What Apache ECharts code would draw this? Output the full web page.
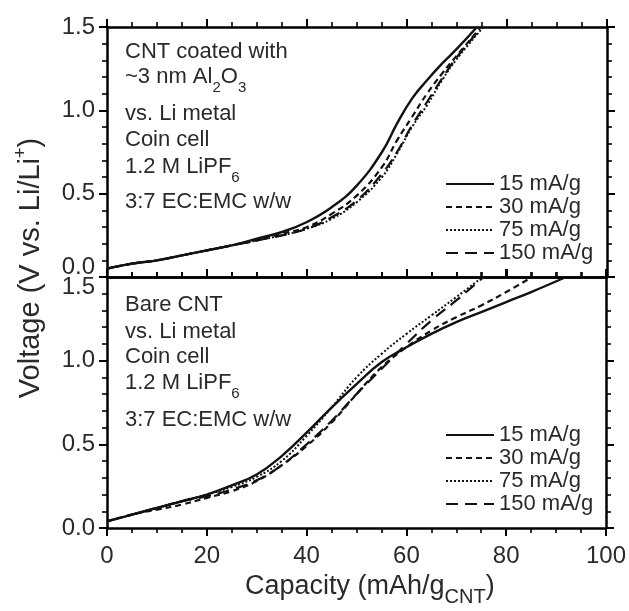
<!DOCTYPE html>
<html>
<head>
<meta charset="utf-8">
<script src="https://cdn.jsdelivr.net/npm/echarts@6/dist/echarts.min.js"></script>
<style>
html,body{margin:0;padding:0;background:#fff;}
#chart{width:629px;height:611px;}
</style>
</head>
<body>
<div id="chart"></div>
<script>
// ---------- data ----------
const seriesNames = ['15 mA/g', '30 mA/g', '75 mA/g', '150 mA/g'];
const xTickLabels = ['0', '20', '40', '60', '80', '100'];
const yTickLabels = ['0.0', '0.5', '1.0', '1.5'];

// top panel: CNT coated with ~3 nm Al2O3
const topCap15 = [0, 5, 10, 15, 20, 25, 30, 35, 40, 45, 50, 55, 58, 61, 64, 67, 70, 74];
const topV15   = [0.05, 0.08, 0.10, 0.13, 0.16, 0.19, 0.23, 0.27, 0.33, 0.42, 0.55, 0.75, 0.92, 1.07, 1.18, 1.28, 1.37, 1.50];
const topCap30 = [0, 5, 10, 15, 20, 25, 30, 35, 40, 45, 50, 55, 58, 61, 64, 67, 70, 74.8];
const topV30   = [0.05, 0.08, 0.10, 0.13, 0.16, 0.19, 0.22, 0.26, 0.30, 0.38, 0.49, 0.66, 0.82, 0.96, 1.10, 1.22, 1.33, 1.50];
const topCap75 = [0, 5, 10, 15, 20, 25, 30, 35, 40, 45, 50, 55, 58, 61, 64, 67, 70, 75.3];
const topV75   = [0.05, 0.08, 0.10, 0.13, 0.16, 0.19, 0.22, 0.25, 0.29, 0.35, 0.45, 0.60, 0.74, 0.90, 1.03, 1.18, 1.31, 1.50];
const topCap150 = [0, 5, 10, 15, 20, 25, 30, 35, 40, 45, 50, 55, 58, 61, 64, 67, 70, 75];
const topV150   = [0.05, 0.08, 0.10, 0.13, 0.16, 0.19, 0.22, 0.25, 0.29, 0.36, 0.46, 0.62, 0.75, 0.91, 1.05, 1.19, 1.32, 1.50];

// bottom panel: bare CNT
const botCap15 = [0, 5, 10, 15, 20, 25, 30, 35, 40, 45, 50, 55, 60, 65, 70, 75, 80, 85, 92];
const botV15   = [0.04, 0.08, 0.12, 0.16, 0.20, 0.255, 0.32, 0.43, 0.57, 0.72, 0.86, 0.99, 1.08, 1.16, 1.23, 1.29, 1.35, 1.41, 1.50];
const botCap30 = [0, 5, 10, 15, 20, 25, 30, 35, 40, 45, 50, 55, 60, 65, 70, 75, 80, 85.2];
const botV30   = [0.04, 0.08, 0.11, 0.14, 0.18, 0.22, 0.28, 0.375, 0.49, 0.63, 0.80, 0.96, 1.08, 1.18, 1.26, 1.33, 1.41, 1.50];
const botCap75 = [0, 5, 10, 15, 20, 25, 30, 35, 40, 45, 50, 55, 60, 65, 70, 75.3];
const botV75   = [0.04, 0.08, 0.12, 0.16, 0.20, 0.245, 0.305, 0.40, 0.55, 0.72, 0.90, 1.04, 1.16, 1.27, 1.38, 1.50];
const botCap150 = [0, 5, 10, 15, 20, 25, 30, 35, 40, 45, 50, 55, 60, 65, 70, 75.5];
const botV150   = [0.04, 0.08, 0.12, 0.16, 0.19, 0.23, 0.285, 0.375, 0.50, 0.64, 0.80, 0.95, 1.10, 1.24, 1.36, 1.50];

const topNotes = ['CNT coated with', '~3 nm Al{s|2}O{s|3}', 'vs. Li metal', 'Coin cell', '1.2 M LiPF{s|6}', '3:7 EC:EMC w/w'];
const botNotes = ['Bare CNT', 'vs. Li metal', 'Coin cell', '1.2 M LiPF{s|6}', '3:7 EC:EMC w/w'];

// ---------- styling ----------
const FF = "'Liberation Sans', Arial, Helvetica, sans-serif";
const TXT = '#2a2a2a';
const dashes = ['solid', [6, 4], [2, 2], [12, 7]];
const widths = [2.4, 2.2, 2.0, 2.2];

const chart = echarts.init(document.getElementById('chart'), null, {renderer: 'canvas'});

function xAx(gridIndex, position, showLabel, inside) {
  return {
    type: 'value', gridIndex, position, min: 0, max: 100, interval: 20,
    axisLine: {show: true, onZero: false, lineStyle: {color: '#000', width: 2.5}},
    axisTick: {show: true, inside, length: 8, lineStyle: {color: '#000', width: 2}},
    minorTick: {show: true, splitNumber: 4, length: 5, lineStyle: {color: '#000', width: 1.6}},
    splitLine: {show: false}, minorSplitLine: {show: false},
    axisLabel: {show: showLabel, margin: 16, fontSize: 24, fontFamily: FF, color: TXT,
      formatter: v => xTickLabels[Math.round(v / 20)]}
  };
}
function yAx(gridIndex, position, showLabel, panel) {
  const rs = {fontSize: 24, fontFamily: FF, color: TXT};
  return {
    type: 'value', gridIndex, position, min: 0, max: 1.5, interval: 0.5,
    axisLine: {show: true, onZero: false, lineStyle: {color: '#000', width: 2.5}},
    axisTick: {show: true, inside: false, length: 8, lineStyle: {color: '#000', width: 2}},
    minorTick: {show: true, splitNumber: 5, length: 5, lineStyle: {color: '#000', width: 1.6}},
    splitLine: {show: false}, minorSplitLine: {show: false},
    axisLabel: {show: showLabel, margin: 12, fontSize: 24, fontFamily: FF, color: TXT,
      formatter: v => {
        const s = yTickLabels[Math.round(v / 0.5)];
        if (panel === 'top' && v === 0) return '{lo|' + s + '}';
        if (panel === 'bot' && v === 1.5) return '{hi|' + s + '}';
        return s;
      },
      rich: {
        lo: Object.assign({padding: [0, 0, 20, 0]}, rs),
        hi: Object.assign({padding: [20, 0, 0, 0]}, rs)
      }}
  };
}

function ser(name, xs, ys, panel, k) {
  return {
    type: 'line', name, xAxisIndex: panel * 2, yAxisIndex: panel * 2,
    data: xs.map((x, i) => [x, ys[i]]),
    symbol: 'none', smooth: 0.45, silent: true,
    itemStyle: {color: '#111'},
    lineStyle: {color: '#111', width: widths[k], type: dashes[k]},
    z: 5 - k
  };
}

const richBase = {
  m: {fontSize: 22, fontFamily: FF, fill: TXT, verticalAlign: 'middle'},
  s: {fontSize: 15, fontFamily: FF, fill: TXT, verticalAlign: 'middle', padding: [22, 0, 0, 0]}
};
function wrapMain(t) {
  return t.split(/(\{s\|[^}]*\})/).filter(p => p.length).map(p => p.startsWith('{s|') ? p : '{m|' + p + '}').join('');
}
function note(y, t) {
  return {type: 'text', x: 125, y, silent: true,
    style: {text: wrapMain(t), align: 'left', verticalAlign: 'middle', rich: richBase}};
}
const topY = [52, 77, 114, 140, 167, 202];
const botY = [305, 332, 357, 383, 420];

const graphics = [];
topNotes.forEach((t, i) => graphics.push(note(topY[i], t)));
botNotes.forEach((t, i) => graphics.push(note(botY[i], t)));
graphics.push({type: 'text', x: 245, y: 587, silent: true,
  style: {text: '{m|Capacity (mAh/g}{s|CNT}{m|)}', align: 'left', verticalAlign: 'middle',
    rich: {m: {fontSize: 27, fontFamily: FF, fill: TXT, verticalAlign: 'middle'},
           s: {fontSize: 20, fontFamily: FF, fill: TXT, verticalAlign: 'middle', padding: [20, 0, 0, 0]}}}});
graphics.push({type: 'text', x: 31, y: 268, rotation: Math.PI / 2, silent: true,
  style: {text: '{m|Voltage (V vs. Li/Li}{p|+}{m|)}', align: 'center', verticalAlign: 'middle',
    rich: {m: {fontSize: 29, fontFamily: FF, fill: TXT, verticalAlign: 'middle'},
           p: {fontSize: 18, fontFamily: FF, fill: TXT, verticalAlign: 'middle', padding: [0, 0, 20, 0]}}}});

function legendAt(top) {
  return {left: 445, top, orient: 'vertical', itemGap: 1, itemWidth: 48, itemHeight: 14, padding: 0,
    selectedMode: false, data: seriesNames,
    itemStyle: {opacity: 0, borderWidth: 0},
    textStyle: {fontSize: 22, fontFamily: FF, color: TXT, lineHeight: 22}};
}

const option = {
  backgroundColor: '#fff',
  animation: false,
  grid: [
    {left: 107, right: 22, top: 27, height: 250},
    {left: 107, right: 22, top: 277, height: 251}
  ],
  xAxis: [xAx(0, 'bottom', false, true), xAx(0, 'top', false, false),
          xAx(1, 'bottom', true, false), xAx(1, 'top', false, false)],
  yAxis: [yAx(0, 'left', true, 'top'), yAx(0, 'right', false, 'top'),
          yAx(1, 'left', true, 'bot'), yAx(1, 'right', false, 'bot')],
  legend: [legendAt(173), legendAt(424)],
  series: [
    ser(seriesNames[0], topCap15, topV15, 0, 0),
    ser(seriesNames[1], topCap30, topV30, 0, 1),
    ser(seriesNames[2], topCap75, topV75, 0, 2),
    ser(seriesNames[3], topCap150, topV150, 0, 3),
    ser(seriesNames[0], botCap15, botV15, 1, 0),
    ser(seriesNames[1], botCap30, botV30, 1, 1),
    ser(seriesNames[2], botCap75, botV75, 1, 2),
    ser(seriesNames[3], botCap150, botV150, 1, 3)
  ],
  graphic: graphics
};
chart.setOption(option);
</script>
</body>
</html>
